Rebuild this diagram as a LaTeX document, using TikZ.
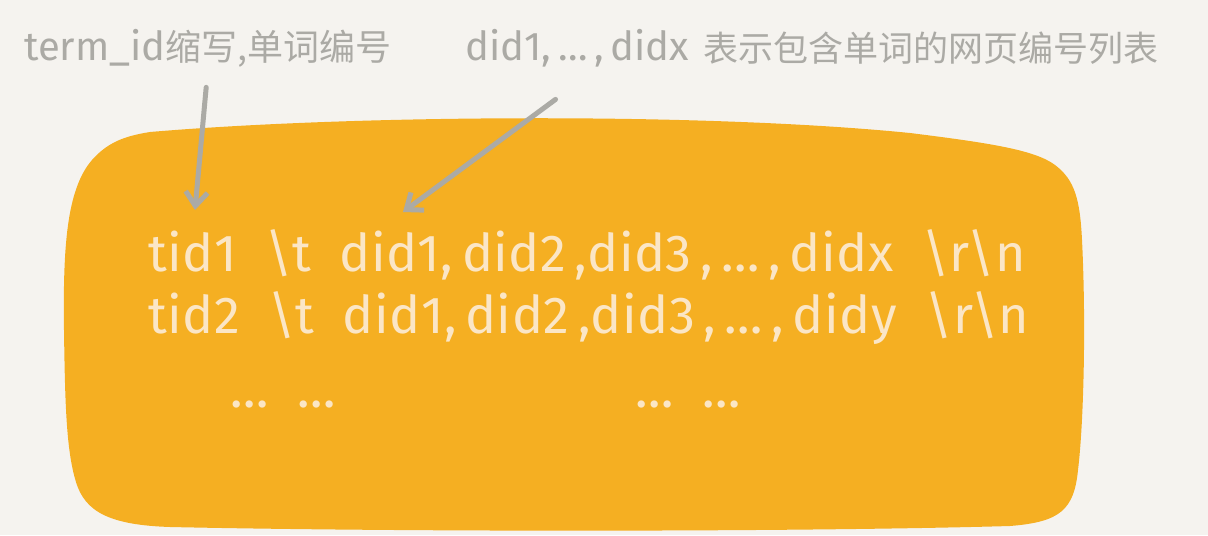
\documentclass[tikz,border=0pt]{standalone}
\usepackage{fontspec}
\setmainfont{Fira Sans}
\newfontfamily\cjk{Noto Sans CJK SC}
\newfontfamily\hand[LetterSpace=1]{Fira Sans}
\usepackage{xcolor}
\usetikzlibrary{
    arrows.meta,
    positioning,
    calc
}
\definecolor{paper}{HTML}{F5F3EF}
\definecolor{blobfill}{HTML}{F5AF22}
\definecolor{chalk}{HTML}{FBE6C6}
\definecolor{pencil}{HTML}{ABAAA5}

\begin{document}
\begin{tikzpicture}[
    x=0.5pt, y=-0.5pt,
    note/.style={
        text=pencil,
        font=\fontsize{20}{24}\selectfont,
        inner sep=0pt
    },
    row/.style={
        text=chalk,
        font=\hand\fontsize{26}{30}\selectfont,
        anchor=west,
        inner sep=0pt
    },
    pointer/.style={
        draw=pencil,
        line width=2.5pt,
        line cap=round,
        -{Straight Barb[length=7pt,width=11pt]}
    }
]

% ============================================================
% FONDO
% ============================================================
\fill[paper] (0,0) rectangle (1208,535);
\useasboundingbox (0,0) rectangle (1208,535);

% bloque naranja
\fill[blobfill] (64,330)
    .. controls (63,250) and (66,190) .. (92,160)
    .. controls (108,142) and (125,136) .. (150,132)
    .. controls (350,115) and (700,112) .. (910,133)
    .. controls (990,143) and (1035,150) .. (1055,165)
    .. controls (1075,180) and (1080,200) .. (1082,240)
    .. controls (1086,320) and (1084,420) .. (1078,470)
    .. controls (1074,510) and (1060,522) .. (1010,526)
    .. controls (800,532) and (400,532) .. (170,527)
    .. controls (110,525) and (85,512) .. (76,482)
    .. controls (66,450) and (65,400) .. (64,330)
    -- cycle;

% ============================================================
% NODOS
% ============================================================

% Etiquetas
\node[note] (term) at (208,48) {term\_id{\cjk\fontsize{18}{22}\selectfont 缩写,单词编号}};
\node[note, anchor=west] (didlist) at (465,48) {did1,\,…\,,\,didx};
\node[note, right=7pt of didlist, font=\cjk\fontsize{17.5}{22}\selectfont] (meaning) {表示包含单词的网页编号列表};

% Filas
\node[row] (row1) at (148,255) {tid1 \ \textbackslash t \ did1,\,did2\,,did3\,,\,…\,,\,didx \ \textbackslash r\textbackslash n};
\node[row] (row2) at (148,318) {tid2 \ \textbackslash t \ did1,\,did2\,,did3\,,\,…\,,\,didy \ \textbackslash r\textbackslash n};
\node[row] (dots1) at (230,405) {…\ \ …};
\node[row] (dots2) at (635,405) {…\ \ …};

% puntas de flecha
\coordinate (tidmark) at (195,210);
\coordinate (didmark) at (403,212);

% ============================================================
% CONEXIONES
% ============================================================
\draw[pointer, shorten <=10pt] (term.south) -- (tidmark);
\draw[pointer, shorten <=27pt] ($(didlist.south west)+(134,0)$) -- (didmark);

\end{tikzpicture}
\end{document}
